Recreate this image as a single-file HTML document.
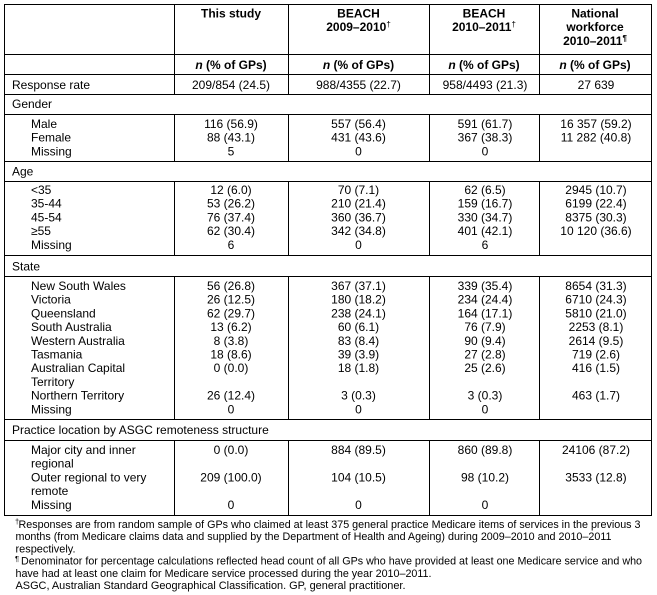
<!DOCTYPE html>
<html>
<head>
<meta charset="utf-8">
<style>
html,body{margin:0;padding:0;background:#fff;}
svg{display:block;}
text{font-family:"Liberation Sans",Arial,sans-serif;fill:#000;}
.h{font-size:12px;font-weight:bold;}
.d{font-size:12px;}
.f{font-size:10.7px;}
</style>
</head>
<body>
<svg width="657" height="595" viewBox="0 0 657 595" xmlns="http://www.w3.org/2000/svg">
<rect x="0" y="0" width="657" height="595" fill="#fff"/>
<g stroke="#000" stroke-width="1" fill="none" shape-rendering="crispEdges">
  <!-- outer -->
  <rect x="4.5" y="4.5" width="647" height="511"/>
  <!-- horizontal -->
  <line x1="4" y1="54.5" x2="652" y2="54.5"/>
  <line x1="4" y1="74.5" x2="652" y2="74.5"/>
  <line x1="4" y1="94.5" x2="652" y2="94.5"/>
  <line x1="4" y1="114.5" x2="652" y2="114.5"/>
  <line x1="4" y1="161.5" x2="652" y2="161.5"/>
  <line x1="4" y1="181.5" x2="652" y2="181.5"/>
  <line x1="4" y1="255.5" x2="652" y2="255.5"/>
  <line x1="4" y1="276.5" x2="652" y2="276.5"/>
  <line x1="4" y1="419.5" x2="652" y2="419.5"/>
  <line x1="4" y1="440.5" x2="652" y2="440.5"/>
  <!-- vertical segments -->
  <path d="M174.5 4V94.5M288.5 4V94.5M429.5 4V94.5M539.5 4V94.5
           M174.5 114.5V161.5M288.5 114.5V161.5M429.5 114.5V161.5M539.5 114.5V161.5
           M174.5 181.5V255.5M288.5 181.5V255.5M429.5 181.5V255.5M539.5 181.5V255.5
           M174.5 276.5V419.5M288.5 276.5V419.5M429.5 276.5V419.5M539.5 276.5V419.5
           M174.5 440.5V515.5M288.5 440.5V515.5M429.5 440.5V515.5M539.5 440.5V515.5"/>
</g>

<!-- header -->
<g class="h" text-anchor="middle">
  <text x="231" y="17.5">This study</text>
  <text x="358.5" y="17.5">BEACH</text>
  <text x="358.5" y="31">2009–2010<tspan font-size="8" font-weight="normal" dy="-4">†</tspan></text>
  <text x="484" y="17.5">BEACH</text>
  <text x="484" y="31">2010–2011<tspan font-size="8" font-weight="normal" dy="-4">†</tspan></text>
  <text x="595" y="17.5">National</text>
  <text x="595" y="31">workforce</text>
  <text x="595" y="45">2010–2011<tspan font-size="8" dy="-4">¶</tspan></text>
  <text x="231" y="69"><tspan font-style="italic">n</tspan> (% of GPs)</text>
  <text x="358.5" y="69"><tspan font-style="italic">n</tspan> (% of GPs)</text>
  <text x="484" y="69"><tspan font-style="italic">n</tspan> (% of GPs)</text>
  <text x="595" y="69"><tspan font-style="italic">n</tspan> (% of GPs)</text>
</g>

<!-- left labels -->
<g class="d">
  <text x="12" y="89">Response rate</text>
  <text x="12" y="108">Gender</text>
  <text x="31" y="128">Male</text>
  <text x="31" y="141.7">Female</text>
  <text x="31" y="155.4">Missing</text>
  <text x="12" y="175.5">Age</text>
  <text x="31" y="194">&lt;35</text>
  <text x="31" y="207.7">35-44</text>
  <text x="31" y="221.4">45-54</text>
  <text x="31" y="235.1">≥55</text>
  <text x="31" y="248.8">Missing</text>
  <text x="12" y="270.5">State</text>
  <text x="31" y="290">New South Wales</text>
  <text x="31" y="303.7">Victoria</text>
  <text x="31" y="317.4">Queensland</text>
  <text x="31" y="331.1">South Australia</text>
  <text x="31" y="344.8">Western Australia</text>
  <text x="31" y="358.5">Tasmania</text>
  <text x="31" y="372.2">Australian Capital</text>
  <text x="31" y="385.9">Territory</text>
  <text x="31" y="399.6">Northern Territory</text>
  <text x="31" y="413.3">Missing</text>
  <text x="12" y="434">Practice location by ASGC remoteness structure</text>
  <text x="31" y="454">Major city and inner</text>
  <text x="31" y="467.7">regional</text>
  <text x="31" y="481.4">Outer regional to very</text>
  <text x="31" y="495.1">remote</text>
  <text x="31" y="508.8">Missing</text>
</g>

<!-- column 1 -->
<g class="d" text-anchor="middle">
  <text x="231" y="89">209/854 (24.5)</text>
  <text x="231" y="128">116 (56.9)</text>
  <text x="231" y="141.7">88 (43.1)</text>
  <text x="231" y="155.4">5</text>
  <text x="231" y="194">12 (6.0)</text>
  <text x="231" y="207.7">53 (26.2)</text>
  <text x="231" y="221.4">76 (37.4)</text>
  <text x="231" y="235.1">62 (30.4)</text>
  <text x="231" y="248.8">6</text>
  <text x="231" y="290">56 (26.8)</text>
  <text x="231" y="303.7">26 (12.5)</text>
  <text x="231" y="317.4">62 (29.7)</text>
  <text x="231" y="331.1">13 (6.2)</text>
  <text x="231" y="344.8">8 (3.8)</text>
  <text x="231" y="358.5">18 (8.6)</text>
  <text x="231" y="372.2">0 (0.0)</text>
  <text x="231" y="399.6">26 (12.4)</text>
  <text x="231" y="413.3">0</text>
  <text x="231" y="454">0 (0.0)</text>
  <text x="231" y="481.4">209 (100.0)</text>
  <text x="231" y="508.8">0</text>
</g>

<!-- column 2 -->
<g class="d" text-anchor="middle">
  <text x="358.5" y="89">988/4355 (22.7)</text>
  <text x="358.5" y="128">557 (56.4)</text>
  <text x="358.5" y="141.7">431 (43.6)</text>
  <text x="358.5" y="155.4">0</text>
  <text x="358.5" y="194">70 (7.1)</text>
  <text x="358.5" y="207.7">210 (21.4)</text>
  <text x="358.5" y="221.4">360 (36.7)</text>
  <text x="358.5" y="235.1">342 (34.8)</text>
  <text x="358.5" y="248.8">0</text>
  <text x="358.5" y="290">367 (37.1)</text>
  <text x="358.5" y="303.7">180 (18.2)</text>
  <text x="358.5" y="317.4">238 (24.1)</text>
  <text x="358.5" y="331.1">60 (6.1)</text>
  <text x="358.5" y="344.8">83 (8.4)</text>
  <text x="358.5" y="358.5">39 (3.9)</text>
  <text x="358.5" y="372.2">18 (1.8)</text>
  <text x="358.5" y="399.6">3 (0.3)</text>
  <text x="358.5" y="413.3">0</text>
  <text x="358.5" y="454">884 (89.5)</text>
  <text x="358.5" y="481.4">104 (10.5)</text>
  <text x="358.5" y="508.8">0</text>
</g>

<!-- column 3 -->
<g class="d" text-anchor="middle">
  <text x="485" y="89">958/4493 (21.3)</text>
  <text x="485" y="128">591 (61.7)</text>
  <text x="485" y="141.7">367 (38.3)</text>
  <text x="485" y="155.4">0</text>
  <text x="485" y="194">62 (6.5)</text>
  <text x="485" y="207.7">159 (16.7)</text>
  <text x="485" y="221.4">330 (34.7)</text>
  <text x="485" y="235.1">401 (42.1)</text>
  <text x="485" y="248.8">6</text>
  <text x="485" y="290">339 (35.4)</text>
  <text x="485" y="303.7">234 (24.4)</text>
  <text x="485" y="317.4">164 (17.1)</text>
  <text x="485" y="331.1">76 (7.9)</text>
  <text x="485" y="344.8">90 (9.4)</text>
  <text x="485" y="358.5">27 (2.8)</text>
  <text x="485" y="372.2">25 (2.6)</text>
  <text x="485" y="399.6">3 (0.3)</text>
  <text x="485" y="413.3">0</text>
  <text x="485" y="454">860 (89.8)</text>
  <text x="485" y="481.4">98 (10.2)</text>
  <text x="485" y="508.8">0</text>
</g>

<!-- column 4 -->
<g class="d" text-anchor="middle">
  <text x="596" y="89">27 639</text>
  <text x="596" y="128">16 357 (59.2)</text>
  <text x="596" y="141.7">11 282 (40.8)</text>
  <text x="596" y="194">2945 (10.7)</text>
  <text x="596" y="207.7">6199 (22.4)</text>
  <text x="596" y="221.4">8375 (30.3)</text>
  <text x="596" y="235.1">10 120 (36.6)</text>
  <text x="596" y="290">8654 (31.3)</text>
  <text x="596" y="303.7">6710 (24.3)</text>
  <text x="596" y="317.4">5810 (21.0)</text>
  <text x="596" y="331.1">2253 (8.1)</text>
  <text x="596" y="344.8">2614 (9.5)</text>
  <text x="596" y="358.5">719 (2.6)</text>
  <text x="596" y="372.2">416 (1.5)</text>
  <text x="596" y="399.6">463 (1.7)</text>
  <text x="596" y="454">24106 (87.2)</text>
  <text x="596" y="481.4">3533 (12.8)</text>
</g>

<!-- footnotes -->
<g class="f">
  <text x="15" y="524" font-size="7.5">†</text>
  <text x="18.5" y="528" textLength="622" lengthAdjust="spacingAndGlyphs">Responses are from random sample of GPs who claimed at least 375 general practice Medicare items of services in the previous 3</text>
  <text x="15.5" y="540.2" textLength="596" lengthAdjust="spacingAndGlyphs">months (from Medicare claims data and supplied by the Department of Health and Ageing) during 2009–2010 and 2010–2011</text>
  <text x="15.5" y="552.4" textLength="60" lengthAdjust="spacingAndGlyphs">respectively.</text>
  <text x="15" y="561" font-size="7.5">¶</text>
  <text x="21" y="564.6" textLength="621" lengthAdjust="spacingAndGlyphs">Denominator for percentage calculations reflected head count of all GPs who have provided at least one Medicare service and who</text>
  <text x="15.5" y="576.8" textLength="416" lengthAdjust="spacingAndGlyphs">have had at least one claim for Medicare service processed during the year 2010–2011.</text>
  <text x="15.5" y="589" textLength="390" lengthAdjust="spacingAndGlyphs">ASGC, Australian Standard Geographical Classification. GP, general practitioner.</text>
</g>
</svg>
</body>
</html>
